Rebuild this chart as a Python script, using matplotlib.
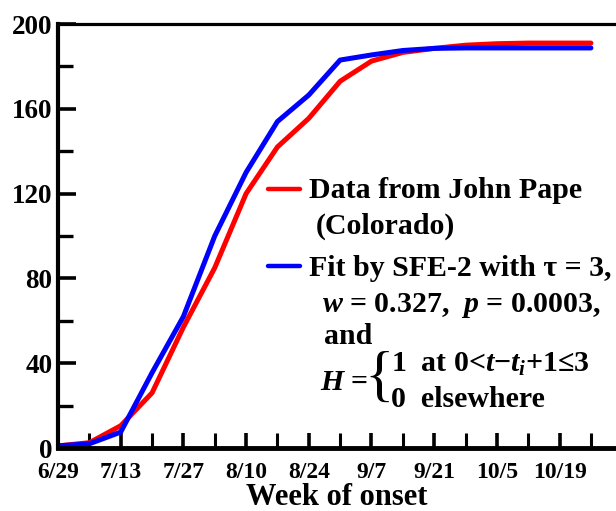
import matplotlib
matplotlib.use('Agg')
import matplotlib.pyplot as plt
from matplotlib.lines import Line2D
from matplotlib.ticker import MultipleLocator

plt.rcParams['font.family'] = 'Liberation Serif'
plt.rcParams['font.weight'] = 'bold'
plt.rcParams['mathtext.fontset'] = 'custom'
plt.rcParams['mathtext.rm'] = 'Liberation Serif:bold'
plt.rcParams['mathtext.it'] = 'Liberation Serif:italic:bold'

# weeks since 6/29
weeks = list(range(18))
observed = [1, 2.5, 10.5, 26, 57, 85, 120, 142, 155.5, 173, 182.5, 186.6,
            188.5, 190, 190.7, 191, 191, 191]
fitted = [1, 2, 7.5, 35.5, 62, 100, 130, 154, 166.5, 183, 185.4, 187.5,
          188.5, 188.7, 188.7, 188.7, 188.7, 188.7]
tick_weeks = [0, 2, 4, 6, 8, 10, 12, 14, 16]
tick_labels = ['6/29', '7/13', '7/27', '8/10', '8/24', '9/7', '9/21',
               '10/5', '10/19']

W, H = 616, 511
fig = plt.figure(figsize=(W / 100, H / 100), dpi=100)
ax = fig.add_axes([58 / W, 1 - 448 / H, 1 - 58 / W, (448 - 24) / H])

ax.plot(weeks, observed, color='#ff0000', lw=3.6, solid_capstyle='round')
ax.plot(weeks, fitted, color='#0000ff', lw=3.6, solid_capstyle='round')

ax.set_xlim(0, 17.8)
ax.set_ylim(0, 200)
ax.set_xticks(tick_weeks)
ax.set_xticklabels(tick_labels, fontsize=17, fontweight='bold')
ax.xaxis.set_minor_locator(MultipleLocator(1))
ax.yaxis.set_major_locator(MultipleLocator(40))
ax.yaxis.set_minor_locator(MultipleLocator(20))
for lab in ax.get_yticklabels():
    lab.set_fontsize(19.5)
    lab.set_fontweight('bold')

ax.tick_params(axis='both', which='both', direction='in', color='black')
ax.tick_params(axis='y', which='major', length=13, width=2.6, pad=4)
ax.tick_params(axis='y', which='minor', length=11, width=2.4)
ax.tick_params(axis='x', which='major', length=11, width=2.6, pad=10)
ax.tick_params(axis='x', which='minor', length=11, width=2.2)

ax.spines['right'].set_visible(False)
ax.spines['left'].set_linewidth(3.0)
ax.spines['bottom'].set_linewidth(3.5)
ax.spines['top'].set_linewidth(2.3)

ax.set_xlabel('Week of onset', fontsize=22, fontweight='bold', labelpad=0)


def fx(px):
    return px / W


def fy(py):
    return 1 - py / H


# legend keys
fig.add_artist(Line2D([fx(268), fx(300)], [fy(189), fy(189)], color='#ff0000',
                      lw=3.2, solid_capstyle='round'))
fig.add_artist(Line2D([fx(268), fx(300)], [fy(266), fy(266)], color='#0000ff',
                      lw=3.2, solid_capstyle='round'))

fs = 21.5
fig.text(fx(309), fy(190), 'Data from John Pape', fontsize=fs, va='center')
fig.text(fx(316), fy(226), '(Colorado)', fontsize=fs, va='center')
fig.text(fx(309), fy(268), 'Fit by SFE-2 with \u03c4 = 3,', fontsize=fs, va='center')
fig.text(fx(322), fy(305), '$w$ = 0.327,  $p$ = 0.0003,', fontsize=fs, va='center')
fig.text(fx(324), fy(336), 'and', fontsize=fs, va='center')
fig.text(fx(320), fy(382), '$H$ =', fontsize=fs, va='center')
fig.text(fx(364), fy(380), '{', fontsize=44, fontweight='normal', va='center')
fig.text(fx(391), fy(364), '1  at 0<$t$\u2212$t_i$+1\u22643', fontsize=fs, va='center')
fig.text(fx(391), fy(399), '0  elsewhere', fontsize=fs, va='center')

fig.savefig('out.png', dpi=100)
